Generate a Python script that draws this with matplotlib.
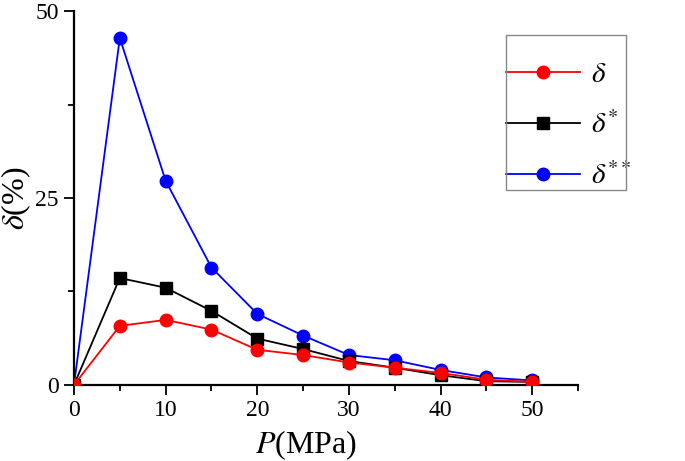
import matplotlib
matplotlib.use("Agg")
import matplotlib.pyplot as plt
from matplotlib.patches import Rectangle
from matplotlib.ticker import MultipleLocator

plt.rcParams["font.family"] = ["Liberation Serif", "DejaVu Serif"]
plt.rcParams["mathtext.fontset"] = "stix"

P = [0, 5, 10, 15, 20, 25, 30, 35, 40, 45, 50]
delta = [0, 7.9, 8.7, 7.4, 4.7, 4.0, 3.0, 2.3, 1.6, 0.7, 0.4]
delta_s = [0, 14.3, 13.0, 9.9, 6.2, 4.8, 3.2, 2.3, 1.3, 0.5, 0.4]
delta_ss = [0, 46.4, 27.3, 15.7, 9.5, 6.6, 4.0, 3.3, 2.0, 1.0, 0.6]
x_ticks = [0, 10, 20, 30, 40, 50]
y_ticks = [0, 25, 50]

fig = plt.figure(figsize=(6.85, 4.61), dpi=100)
ax = fig.add_axes([0.108, 0.165, 0.736, 0.811])

ax.plot(P, delta, color="#ff0000", marker="o", markersize=9, lw=1.3, label=r"$\delta$", zorder=3)
ax.plot(P, delta_s, color="black", marker="s", markersize=8, lw=1.3, label=r"$\delta^{*}$", zorder=2)
ax.plot(P, delta_ss, color="#0000ff", marker="o", markersize=9, lw=1.3, label=r"$\delta^{**}$", zorder=1)

ax.set_xlim(0, 55)
ax.set_ylim(0, 50)
ax.set_xticks(x_ticks)
ax.set_xticklabels([str(v) for v in x_ticks], fontsize=17)
ax.set_yticks(y_ticks)
ax.set_yticklabels([str(v) for v in y_ticks], fontsize=17)
ax.xaxis.set_minor_locator(MultipleLocator(5))
ax.yaxis.set_minor_locator(MultipleLocator(12.5))
ax.tick_params(which="major", direction="out", length=7, width=1.3, pad=4)
ax.tick_params(which="minor", direction="out", length=4, width=1.3)
for side in ("top", "right"):
    ax.spines[side].set_visible(False)
for side in ("left", "bottom"):
    ax.spines[side].set_linewidth(1.6)
for lab in ax.get_xticklabels() + ax.get_yticklabels():
    lab.set_clip_on(False)

ax.set_xlabel(r"$P$(MPa)", fontsize=23, labelpad=5, x=0.46)
ax.set_ylabel(r"$\delta$(%)", fontsize=23)
ax.yaxis.set_label_coords(-0.082, 0.5)

leg = ax.legend(loc="upper left", bbox_to_anchor=(0.857, 0.865), fontsize=21,
                handlelength=2.55, handletextpad=0.35, labelspacing=0.8,
                borderpad=0.0, borderaxespad=0, frameon=False)
# legend frame drawn separately: the original box is tight left/right, loose top
fig.patches.append(Rectangle((506 / 685, 1 - 190 / 461), 120 / 685, 155 / 461,
                             transform=fig.transFigure, fill=False,
                             edgecolor="#888888", lw=1.0, zorder=5))

fig.savefig("out.png", dpi=100)
